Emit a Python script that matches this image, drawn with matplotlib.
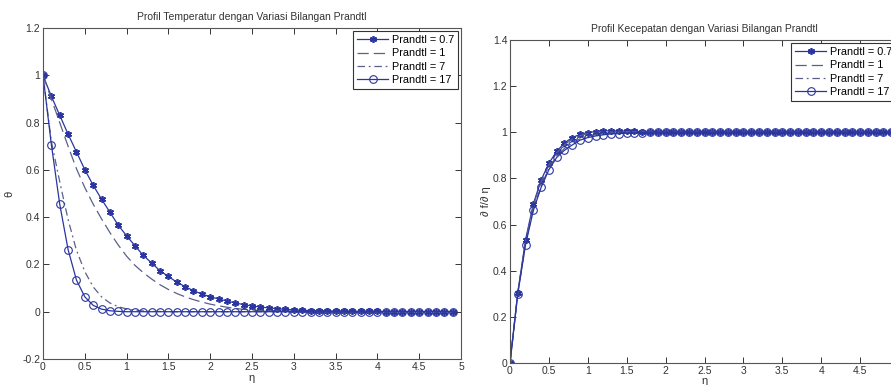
import numpy as np
import matplotlib.pyplot as plt

plt.rcParams['font.family'] = ['Liberation Sans', 'DejaVu Sans']

# eta grid shown by the markers (0 .. 4.9)
eta = [round(0.1 * i, 1) for i in range(50)]

# --- temperature profiles theta(eta) ---
theta_pr07 = [1.0, 0.911, 0.831, 0.751, 0.676, 0.601, 0.535, 0.476, 0.421, 0.366,
              0.321, 0.279, 0.238, 0.206, 0.173, 0.149, 0.125, 0.106, 0.089, 0.075,
              0.063, 0.054, 0.045, 0.037, 0.030, 0.024, 0.020, 0.016, 0.013, 0.010,
              0.008, 0.006, 0.005, 0.004, 0.003, 0.002, 0.002, 0.001, 0.001, 0.001,
              0.001, 0.0, 0.0, 0.0, 0.0, 0.0, 0.0, 0.0, 0.0, 0.0]
theta_pr1 = [1.0, 0.90, 0.80, 0.70, 0.605, 0.525, 0.455, 0.393, 0.335, 0.282,
             0.235, 0.196, 0.165, 0.138, 0.114, 0.094, 0.077, 0.063, 0.051, 0.041,
             0.032, 0.025, 0.019, 0.014, 0.010, 0.007, 0.005, 0.004, 0.003, 0.002,
             0.001, 0.001, 0.0, 0.0, 0.0, 0.0, 0.0, 0.0, 0.0, 0.0,
             0.0, 0.0, 0.0, 0.0, 0.0, 0.0, 0.0, 0.0, 0.0, 0.0]
theta_pr7 = [1.0, 0.72, 0.55, 0.39, 0.26, 0.17, 0.105, 0.063, 0.037, 0.021,
             0.012, 0.006, 0.003, 0.0015, 0.001, 0.0, 0.0, 0.0, 0.0, 0.0,
             0.0, 0.0, 0.0, 0.0, 0.0, 0.0, 0.0, 0.0, 0.0, 0.0,
             0.0, 0.0, 0.0, 0.0, 0.0, 0.0, 0.0, 0.0, 0.0, 0.0,
             0.0, 0.0, 0.0, 0.0, 0.0, 0.0, 0.0, 0.0, 0.0, 0.0]
theta_pr17 = [1.0, 0.707, 0.455, 0.263, 0.134, 0.063, 0.027, 0.011, 0.004, 0.0015,
              0.0, 0.0, 0.0, 0.0, 0.0, 0.0, 0.0, 0.0, 0.0, 0.0,
              0.0, 0.0, 0.0, 0.0, 0.0, 0.0, 0.0, 0.0, 0.0, 0.0,
              0.0, 0.0, 0.0, 0.0, 0.0, 0.0, 0.0, 0.0, 0.0, 0.0,
              0.0, 0.0, 0.0, 0.0, 0.0, 0.0, 0.0, 0.0, 0.0, 0.0]

# --- velocity profiles df/deta ---
vel_pr07 = [0.0, 0.305, 0.534, 0.690, 0.793, 0.866, 0.917, 0.954, 0.977, 0.991,
            0.999, 1.003, 1.006, 1.006, 1.006, 1.005, 1.004, 1.003, 1.002, 1.002,
            1.001, 1.001, 1.0, 1.0, 1.0, 1.0, 1.0, 1.0, 1.0, 1.0,
            1.0, 1.0, 1.0, 1.0, 1.0, 1.0, 1.0, 1.0, 1.0, 1.0,
            1.0, 1.0, 1.0, 1.0, 1.0, 1.0, 1.0, 1.0, 1.0, 1.0]
vel_pr1 = [0.0, 0.304, 0.528, 0.682, 0.785, 0.858, 0.910, 0.946, 0.970, 0.985,
           0.994, 0.999, 1.002, 1.003, 1.003, 1.003, 1.002, 1.002, 1.001, 1.001,
           1.0, 1.0, 1.0, 1.0, 1.0, 1.0, 1.0, 1.0, 1.0, 1.0,
           1.0, 1.0, 1.0, 1.0, 1.0, 1.0, 1.0, 1.0, 1.0, 1.0,
           1.0, 1.0, 1.0, 1.0, 1.0, 1.0, 1.0, 1.0, 1.0, 1.0]
vel_pr7 = [0.0, 0.302, 0.518, 0.668, 0.768, 0.845, 0.898, 0.930, 0.953, 0.972,
           0.983, 0.990, 0.994, 0.997, 0.998, 0.999, 1.0, 1.0, 1.0, 1.0,
           1.0, 1.0, 1.0, 1.0, 1.0, 1.0, 1.0, 1.0, 1.0, 1.0,
           1.0, 1.0, 1.0, 1.0, 1.0, 1.0, 1.0, 1.0, 1.0, 1.0,
           1.0, 1.0, 1.0, 1.0, 1.0, 1.0, 1.0, 1.0, 1.0, 1.0]
vel_pr17 = [0.0, 0.300, 0.513, 0.661, 0.761, 0.838, 0.891, 0.922, 0.945, 0.966,
            0.977, 0.984, 0.989, 0.993, 0.994, 0.997, 0.998, 0.999, 1.0, 1.0,
            1.0, 1.0, 1.0, 1.0, 1.0, 1.0, 1.0, 1.0, 1.0, 1.0,
            1.0, 1.0, 1.0, 1.0, 1.0, 1.0, 1.0, 1.0, 1.0, 1.0,
            1.0, 1.0, 1.0, 1.0, 1.0, 1.0, 1.0, 1.0, 1.0, 1.0]

labels = ['Prandtl = 0.7', 'Prandtl = 1', 'Prandtl = 7', 'Prandtl = 17']
blue = '#2a35a0'
grey_blue = '#5a6088'
asterisk = (6, 2, 0)


def draw(ax, series):
    s07, s1, s7, s17 = series
    ax.plot(eta, s07, color=blue, lw=0.9, marker=asterisk, ms=5, mew=1.2,
            label=labels[0])
    ax.plot(eta, s1, color=grey_blue, lw=0.9, ls=(0, (9, 4)), label=labels[1])
    ax.plot(eta, s7, color=grey_blue, lw=0.9, ls=(0, (6, 3, 1.5, 3)), label=labels[2])
    ax.plot(eta, s17, color=blue, lw=0.9, marker='o', ms=5.5, mfc='none', mew=0.8,
            label=labels[3])
    ax.set_xlim(0, 5)
    ax.set_xticks(np.arange(0, 5.01, 0.5))
    ax.set_xticklabels(['0', '0.5', '1', '1.5', '2', '2.5', '3', '3.5', '4', '4.5', '5'])
    ax.tick_params(direction='in', top=True, right=True, labelsize=7.5,
                   colors='#333333', length=4, width=0.7, pad=2)
    for sp in ax.spines.values():
        sp.set_color('#555555')
        sp.set_linewidth(0.8)
    leg = ax.legend(loc='upper right', fontsize=7.8, frameon=True, fancybox=False,
                    edgecolor='#333333', framealpha=1, borderaxespad=0.25,
                    handlelength=2.9, handletextpad=0.3, labelspacing=0.3,
                    borderpad=0.4)
    leg.get_frame().set_linewidth(0.8)


fig = plt.figure(figsize=(8.91, 3.85), dpi=100)

ax1 = fig.add_axes([43 / 891, 26 / 385, 418 / 891, 331 / 385])
draw(ax1, [theta_pr07, theta_pr1, theta_pr7, theta_pr17])
ax1.set_ylim(-0.2, 1.2)
ax1.set_yticks(np.arange(-0.2, 1.21, 0.2))
ax1.set_yticklabels(['-0.2', '0', '0.2', '0.4', '0.6', '0.8', '1', '1.2'])
ax1.set_title('Profil Temperatur dengan Variasi Bilangan Prandtl', fontsize=7.5,
              color='#333333', pad=6)
ax1.set_xlabel('η', fontsize=8, color='#333333', labelpad=1)
ax1.set_ylabel('θ', fontsize=8, color='#333333', labelpad=6)

ax2 = fig.add_axes([510 / 891, 22 / 385, 389 / 891, 323 / 385])
draw(ax2, [vel_pr07, vel_pr1, vel_pr7, vel_pr17])
ax2.set_ylim(0, 1.4)
ax2.set_yticks(np.arange(0, 1.41, 0.2))
ax2.set_yticklabels(['0', '0.2', '0.4', '0.6', '0.8', '1', '1.2', '1.4'])
ax2.set_title('Profil Kecepatan dengan Variasi Bilangan Prandtl', fontsize=7.5,
              color='#333333', pad=6)
ax2.set_xlabel('η', fontsize=8, color='#333333', labelpad=0)
ax2.set_ylabel('∂ f/∂ η', fontsize=8, color='#333333', labelpad=1)

fig.savefig('out.png', dpi=100)
